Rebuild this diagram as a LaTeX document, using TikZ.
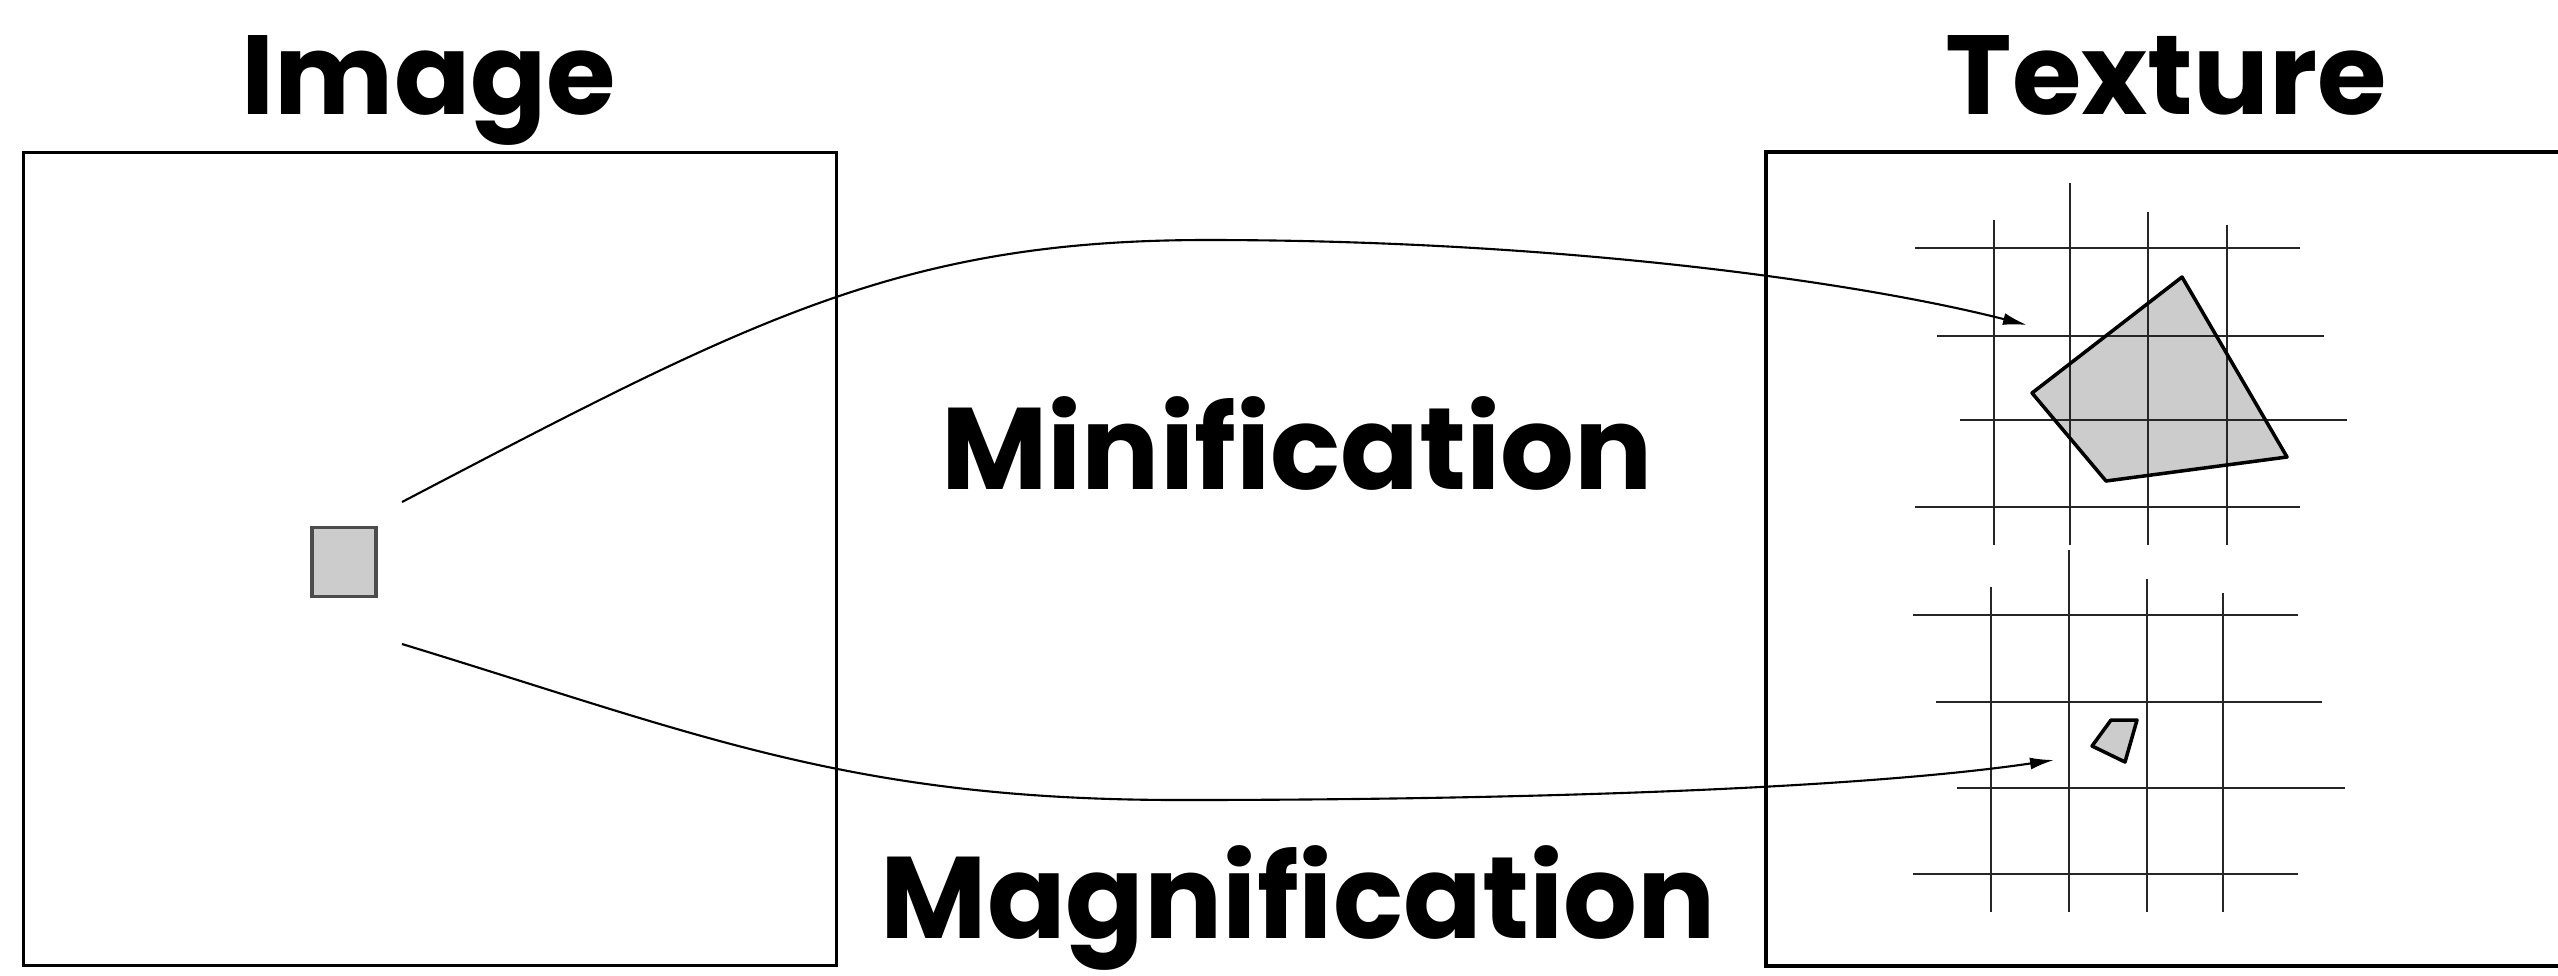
\documentclass[tikz,border=0pt]{standalone}
\usepackage{fontspec}
\newfontfamily\headfont{Poppins}
\usetikzlibrary{arrows.meta,positioning}

\begin{document}
\begin{tikzpicture}[
    x=0.01cm, y=-0.01cm,
    frame/.style={draw, line width=0.9pt, inner sep=0pt},
    title/.style={font=\headfont\bfseries\fontsize{32}{38}\selectfont, anchor=base, inner sep=0pt},
    biglabel/.style={font=\headfont\bfseries\fontsize{33}{40}\selectfont, anchor=base, inner sep=0pt},
    pixel/.style={draw=black!70, fill=gray!40, line width=1pt, minimum width=0.64cm, minimum height=0.69cm, inner sep=0pt},
    texel/.style={fill=gray!40},
    texeledge/.style={draw, line width=1pt, line join=round},
    gridline/.style={black!85, line width=0.75pt},
    arrow/.style={-{Latex[length=2.4mm,width=1.2mm]}, line width=0.6pt}
]
\useasboundingbox (0,0) rectangle (2558,975);

% image side
\node[frame, minimum width=8.12cm, minimum height=8.12cm] (imgbox) at (430,559) {};
\node[title] (imgtitle) at (429,114) {Image};
\node[pixel] (pix) at (344,562) {};

% texture side (box runs off the right edge)
\draw[line width=0.9pt] (2558,152) -- (1766,152) -- (1766,966) -- (2558,966);
\node[title] (textitle) at (2166,114) {Texture};

% minified texel footprint
\fill[texel] (2182,277) -- (2287,457) -- (2106,481) -- (2032,393) -- cycle;
\foreach \x/\top in {1994/220, 2070/183, 2148/212, 2227/225}
    \draw[gridline] (\x,\top) -- (\x,545);
\foreach \y/\left/\right in {248/1915/2300, 336/1937/2324, 420/1960/2347, 507/1915/2300}
    \draw[gridline] (\left,\y) -- (\right,\y);
\draw[texeledge] (2182,277) -- (2287,457) -- (2106,481) -- (2032,393) -- cycle;

% magnified texel footprint
\fill[texel] (2111,720) -- (2137,720) -- (2125,762) -- (2092,746) -- cycle;
\foreach \x/\top in {1991/587, 2069/550, 2147/579, 2223/593}
    \draw[gridline] (\x,\top) -- (\x,912);
\foreach \y/\left/\right in {615/1913/2298, 702/1936/2322, 788/1957/2345, 874/1913/2298}
    \draw[gridline] (\left,\y) -- (\right,\y);
\draw[texeledge] (2111,720) -- (2137,720) -- (2125,762) -- (2092,746) -- cycle;

% labels
\node[biglabel] (minlabel) at (1297,489) {Minification};
\node[biglabel] (maglabel) at (1298,938) {Magnification};

% mappings
\coordinate (minstart) at (402,502);
\coordinate (minend) at (2027,325);
\coordinate (magstart) at (402,644);
\coordinate (magend) at (2054,760);
\draw[arrow] (minstart) .. controls (750,320) and (900,240) .. (1207,240)
    .. controls (1550,240) and (1850,280) .. (minend);
\draw[arrow] (magstart) .. controls (700,735) and (850,800) .. (1180,800)
    .. controls (1500,800) and (1850,790) .. (magend);
\end{tikzpicture}
\end{document}
